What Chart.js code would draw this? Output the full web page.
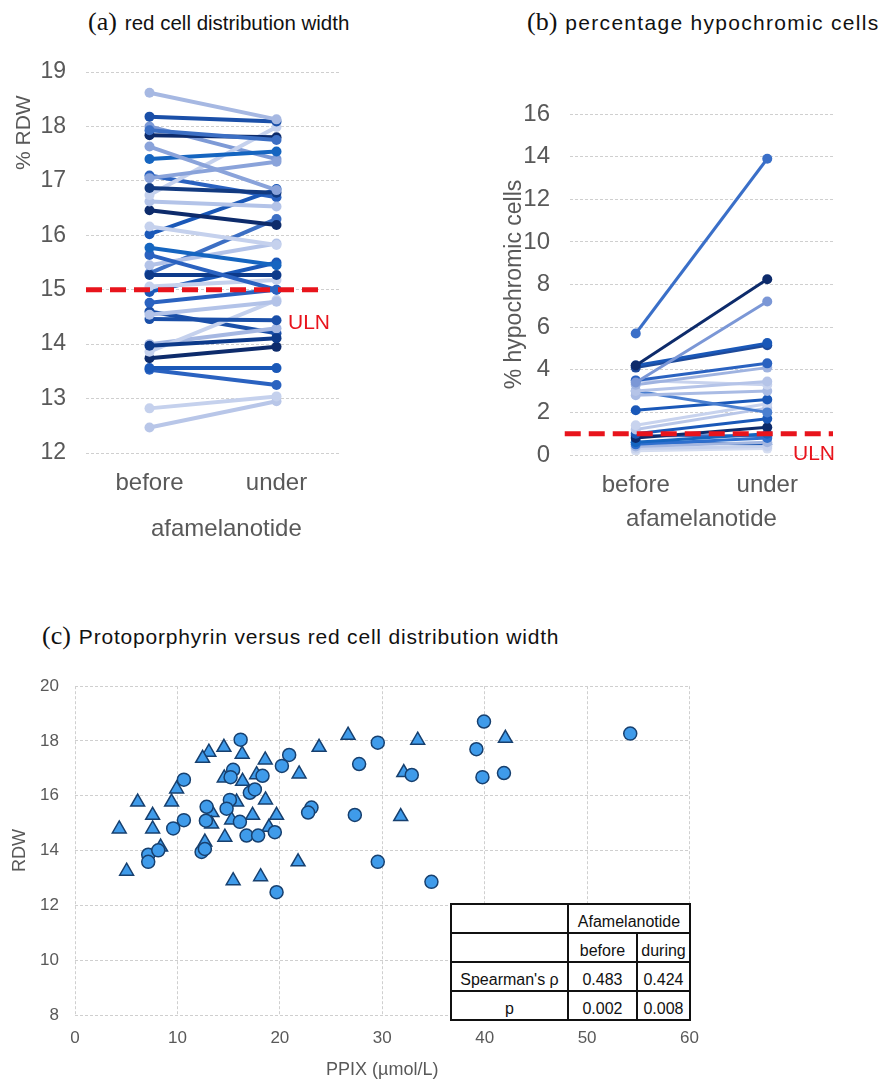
<!DOCTYPE html>
<html>
<head>
<meta charset="utf-8">
<script src="https://cdn.jsdelivr.net/npm/chart.js@4.4.0/dist/chart.umd.min.js"></script>
<style>
  body { margin: 0; background: #fff; width: 891px; height: 1080px; position: relative; overflow: hidden;
         font-family: 'Liberation Sans', Arial, sans-serif; }
  .box { position: absolute; }
  .ttl { position: absolute; font-size: 20px; line-height: 28px; color: #111; white-space: nowrap; }
  .ttl span { font-family: 'Liberation Serif', 'Times New Roman', serif; font-size: 26px; margin-right: 8px; letter-spacing: 0; }
  .uln { position: absolute; color: #e8141c; font-size: 21px; line-height: 24px; }
  table { position: absolute; left: 450px; top: 903px; border-collapse: collapse; background: #fff;
          font-size: 16px; color: #111; }
  td { border: 2px solid #111; height: 26px; padding: 0 1px 1px; text-align: center; vertical-align: bottom; white-space: nowrap; }
</style>
</head>
<body>
<div class="ttl" style="left:88px;top:8px;font-size:20.5px"><span>(a)</span>red cell distribution width</div>
<div class="ttl" style="left:527px;top:8px;font-size:21px;letter-spacing:1.3px"><span>(b)</span>percentage hypochromic cells</div>
<div class="ttl" style="left:42px;top:622px;font-size:21px;letter-spacing:0.8px"><span>(c)</span>Protoporphyrin versus red cell distribution width</div>

<div class="box" style="left:0;top:0;width:360px;height:544px"><canvas id="rdw"></canvas></div>
<div class="box" style="left:490px;top:0;width:401px;height:534px"><canvas id="hypo"></canvas></div>
<div class="box" style="left:0;top:660px;width:712px;height:421px"><canvas id="ppix"></canvas></div>

<div class="uln" style="left:288px;top:310px">ULN</div>
<div class="uln" style="left:793px;top:441px">ULN</div>

<table>
  <tr><td style="width:113px"></td><td colspan="2">Afamelanotide</td></tr>
  <tr><td></td><td style="width:65px">before</td><td style="width:49px">during</td></tr>
  <tr><td>Spearman's ρ</td><td>0.483</td><td>0.424</td></tr>
  <tr><td>p</td><td>0.002</td><td>0.008</td></tr>
</table>

<script>
// (a) RDW per patient, before vs under afamelanotide
const categories = ['before', 'under']
const rdwBefore = [18.62, 18.18, 17.93, 17.84, 17.63, 17.40, 17.05, 16.87, 16.74, 16.62, 16.46, 16.16, 16.02,
  15.77, 15.64, 15.45, 15.27, 15.06, 14.96, 14.76, 14.54, 14.46, 13.97, 13.86, 13.74, 13.56, 13.53, 12.82, 12.47,
  14.0, 17.1, 18.0, 15.3, 14.6]
const rdwUnder = [18.13, 18.09, 17.75, 17.8, 16.83, 17.54, 17.35, 16.78, 17.99, 16.53, 16.19, 15.82, 16.85,
  15.45, 15.0, 15.85, 15.27, 15.18, 15.5, 15.0, 14.78, 14.44, 14.11, 14.81, 13.95, 13.56, 13.25, 13.04, 12.95,
  14.29, 16.7, 17.4, 16.3, 14.2]
const rdwULN = 15

// (b) % hypochromic cells
const hypoBefore = [5.7, 4.2, 3.4, 4.2, 4.1, 3.5, 3.3, 3.0, 3.5, 2.8, 3.0, 2.1, 1.4, 1.2, 1.0, 0.8, 0.6, 0.5, 0.4, 0.3, 0.2, 0.6, 0.9]
const hypoUnder = [13.9, 8.25, 7.2, 5.25, 5.15, 4.3, 4.1, 3.45, 3.3, 3.0, 2.0, 2.6, 2.4, 2.2, 1.7, 1.3, 1.0, 0.8, 0.6, 0.4, 0.3, 0.5, 0.9]
const hypoULN = 1.0

// (c) PPIX vs RDW
const ppixBefore = [16.17, 20.91, 20.20, 15.44, 15.19, 18.31, 10.63, 17.07, 17.56, 15.12, 12.85, 14.80, 23.09, 22.76,
  10.63, 9.59, 12.78, 16.10, 16.75, 17.88, 19.51, 12.36, 12.68, 7.15, 7.15, 19.68, 8.13, 39.93, 29.56, 39.19,
  27.74, 32.88, 39.78, 41.88, 27.32, 29.56, 34.80, 54.21]
const rdwBeforeC = [18.05, 17.49, 17.09, 16.95, 16.68, 16.73, 16.59, 16.11, 16.23, 15.85, 15.60, 15.53, 15.57, 15.39,
  15.11, 14.81, 15.09, 15.05, 14.55, 14.55, 14.67, 13.95, 14.06, 13.85, 13.59, 12.48, 14.01, 18.71, 17.94, 17.70,
  17.16, 16.76, 16.68, 16.83, 15.30, 13.59, 12.86, 18.27]
const ppixDuring = [14.54, 13.07, 12.46, 16.32, 18.57, 23.83, 21.88, 14.57, 16.36, 17.73, 9.92, 6.12, 9.43, 15.78,
  18.60, 7.58, 13.37, 17.34, 19.68, 15.29, 13.34, 4.32, 7.58, 18.93, 14.63, 12.68, 8.36, 21.78, 5.04, 15.44, 18.12,
  26.66, 33.46, 42.02, 32.10, 31.80]
const rdwDuringC = [17.77, 17.59, 17.37, 17.52, 17.31, 17.77, 16.80, 16.65, 16.53, 16.77, 16.25, 15.77, 15.77, 15.77,
  15.85, 15.29, 15.39, 15.29, 15.29, 15.12, 14.97, 14.79, 14.79, 14.85, 14.49, 14.31, 14.13, 13.59, 13.25, 12.90,
  13.05, 18.21, 18.03, 18.10, 16.85, 15.24]

const blues = ['#a6b8e2', '#1a4fa8', '#3c6fc4', '#0d2b6b', '#8aa3da', '#1565c0', '#8aa3da', '#123a80', '#c5d1ed',
  '#b3c3e8', '#0d2b6b', '#c5d1ed', '#1a58b8', '#1565c0', '#2a62c0', '#b3c3e8', '#0d3a8a', '#c5d1ed', '#1a58b8',
  '#2a62c0', '#b3c3e8', '#1a4fa8', '#0d3a8a', '#c5d1ed', '#0d2b6b', '#1a58b8', '#2a62c0', '#c5d1ed', '#b8c6e8',
  '#a6b8e2', '#2a62c0', '#7d9ad6', '#3c6fc4', '#1a4fa8']
const bluesB = ['#3a6fc8', '#0d2b6b', '#7b97d6', '#1a58b8', '#1e4a9a', '#2a62c0', '#9fb3e0', '#b5c4e8', '#c8d3ee',
  '#a9bbe4', '#4a7fd0', '#1a58b8', '#c8d3ee', '#b8c6e8', '#1a58b8', '#0d2b6b', '#1565c0', '#2e6fce', '#a3b6e0',
  '#c7d2ec', '#d5ddf0', '#1f5bb5', '#3b6fc5']

const font = 'Liberation Sans, Arial, sans-serif'
const grey = '#595959'

function pairChart(id, before, under, colors, uln, ulnFrom, ulnTo, y, lay) {
  const sets = before.map((b, i) => ({
    data: [{ x: 0, y: b }, { x: 1, y: under[i] }],
    borderColor: colors[i % colors.length],
    backgroundColor: colors[i % colors.length],
    borderWidth: lay.lw,
    pointRadius: lay.pr,
    pointBorderWidth: 0,
  }))
  sets.unshift({
    data: [{ x: ulnFrom, y: uln }, { x: ulnTo, y: uln }],
    borderColor: '#e8141c',
    borderWidth: 5,
    borderDash: [16, 8],
    pointRadius: 0,
    clip: false,
  })
  new Chart(document.getElementById(id), {
    type: 'line',
    data: { datasets: sets },
    options: {
      responsive: true,
      maintainAspectRatio: false,
      animation: false,
      layout: { padding: { top: lay.top, right: lay.right, left: 0, bottom: 0 } },
      scales: {
        x: {
          type: 'linear', min: -0.5, max: 1.5,
          afterBuildTicks: (s) => { s.ticks = [{ value: 0 }, { value: 1 }] },
          afterFit: (s) => { s.height = lay.xh },
          grid: { display: false, drawTicks: false },
          border: { display: false },
          ticks: { padding: 16, color: grey, font: { family: font, size: 24 }, callback: (v) => categories[v] },
          title: { display: true, text: lay.xt, color: grey, font: { family: font, size: 24 }, padding: 0 },
        },
        y: {
          min: y.min, max: y.max,
          afterFit: (s) => { s.width = lay.yw },
          ticks: { stepSize: y.step, padding: 20, color: grey, font: { family: font, size: lay.tf } },
          grid: { color: '#cfcfcf', drawTicks: false },
          border: { display: false, dash: [3, 2] },
          title: { display: true, text: y.title, align: y.align, color: grey, font: { family: font, size: lay.yf }, padding: { top: lay.ytp } },
        },
      },
      plugins: { legend: { display: false }, tooltip: { enabled: false } },
    },
  })
}

pairChart('rdw', rdwBefore, rdwUnder, blues, rdwULN, -0.5, 1.35,
  { min: 12, max: 19, step: 1, title: '% RDW    ', align: 'end' },
  { top: 72, right: 20, xh: 91, yw: 86, tf: 23, yf: 21, ytp: 12, lw: 4, pr: 5, xt: '    afamelanotide' })

pairChart('hypo', hypoBefore, hypoUnder, bluesB, hypoULN, -0.54, 1.5,
  { min: 0, max: 16, step: 2, title: '% hypochromic cells', align: 'center' },
  { top: 114, right: 58, xh: 79, yw: 80, tf: 24, yf: 23, ytp: 11, lw: 3, pr: 5, xt: 'afamelanotide' })

const pt = (xs, ys) => xs.map((x, i) => ({ x, y: ys[i] }))

new Chart(document.getElementById('ppix'), {
  type: 'scatter',
  data: {
    datasets: [
      { label: 'before', data: pt(ppixBefore, rdwBeforeC), pointStyle: 'circle', pointRadius: 6.5,
        backgroundColor: '#3f9bea', borderColor: '#17406f', borderWidth: 1.5 },
      { label: 'during', data: pt(ppixDuring, rdwDuringC), pointStyle: 'triangle', pointRadius: 8,
        backgroundColor: '#3f9bea', borderColor: '#17406f', borderWidth: 1.5 },
    ],
  },
  options: {
    responsive: true,
    maintainAspectRatio: false,
    animation: false,
    layout: { padding: { top: 22, right: 0, left: 0, bottom: 0 } },
    scales: {
      x: {
        min: 0, max: 60,
        afterFit: (s) => { s.height = 66 },
        ticks: { stepSize: 10, padding: 13, color: grey, font: { family: font, size: 17 } },
        grid: { color: '#cfcfcf', drawTicks: false },
        border: { display: false, dash: [3, 2] },
        title: { display: true, text: 'PPIX (µmol/L)', color: grey, font: { family: font, size: 18 }, padding: 0 },
      },
      y: {
        min: 8, max: 20,
        afterFit: (s) => { s.width = 75 },
        ticks: { stepSize: 2, padding: 16, color: grey, font: { family: font, size: 17 } },
        grid: { color: '#cfcfcf', drawTicks: false },
        border: { display: false, dash: [3, 2] },
        title: { display: true, text: 'RDW', color: grey, font: { family: font, size: 18 }, padding: { top: 9 } },
      },
    },
    plugins: { legend: { display: false }, tooltip: { enabled: false } },
  },
})
</script>
</body>
</html>
